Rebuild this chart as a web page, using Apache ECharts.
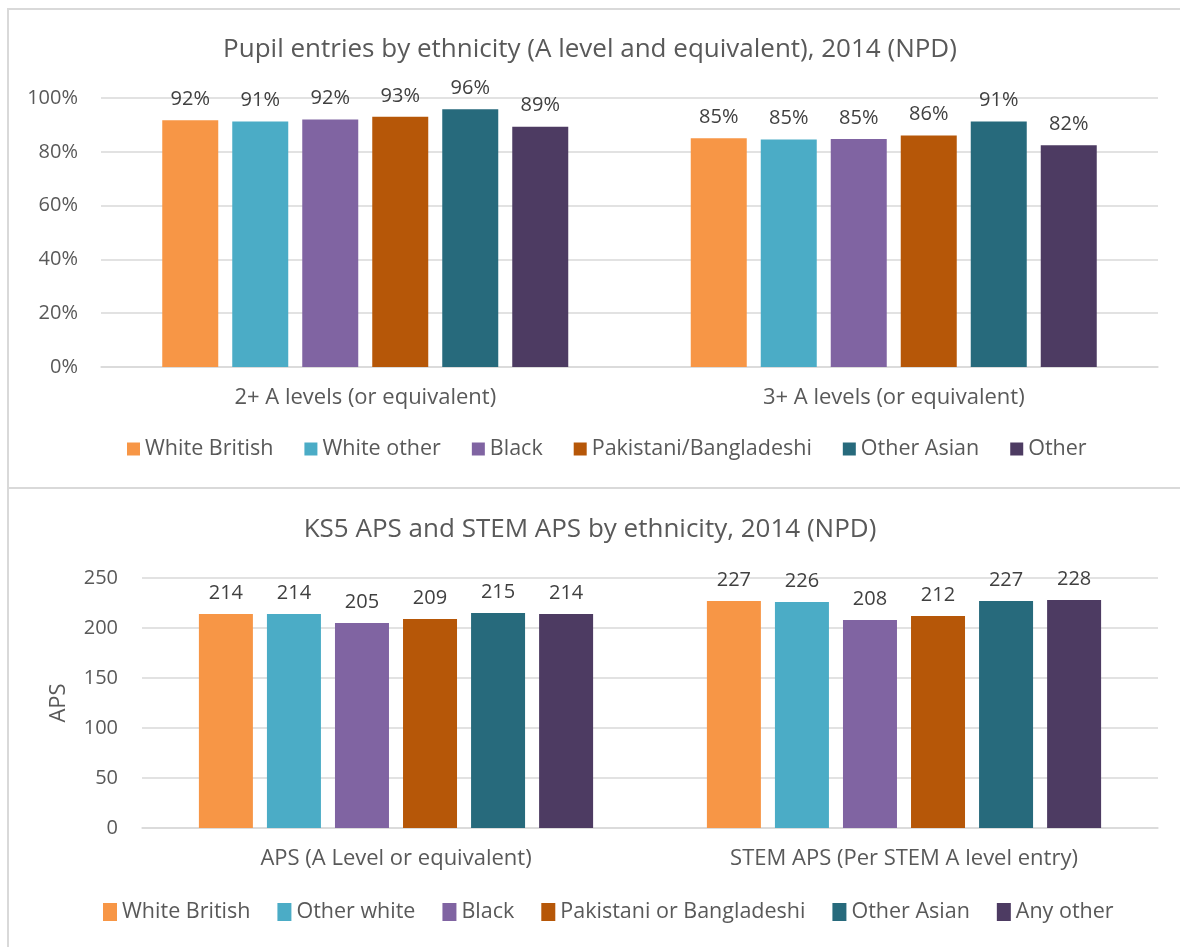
<!DOCTYPE html>
<html><head><meta charset="utf-8">
<script src="https://cdn.jsdelivr.net/npm/echarts@6/dist/echarts.min.js"></script>
<style>
html,body{margin:0;padding:0;background:#fff;width:1180px;height:947px;overflow:hidden;}
#frame1{position:absolute;left:7px;top:8px;width:1173px;height:478px;border-left:2px solid #d9d9d9;border-top:2px solid #d9d9d9;}
#frame2{position:absolute;left:7px;top:487px;width:1173px;height:460px;border-left:2px solid #d9d9d9;border-top:2px solid #d9d9d9;}
#c1{position:absolute;left:0;top:0;width:1180px;height:488px;}
#c2{position:absolute;left:0;top:488px;width:1180px;height:459px;}
</style></head>
<body>
<div id="frame1"></div><div id="frame2"></div>
<div id="c1"></div><div id="c2"></div>
<script>
// ---- Chart 1 data ----
const cats1 = ['2+ A levels (or equivalent)', '3+ A levels (or equivalent)'];
const names1 = ['White British', 'White other', 'Black', 'Pakistani/Bangladeshi', 'Other Asian', 'Other'];
const whiteBritish1 = [91.7, 85.0];
const whiteOther1 = [91.3, 84.6];
const black1 = [92.0, 84.8];
const pakBang1 = [93.0, 86.1];
const otherAsian1 = [95.8, 91.3];
const other1 = [89.3, 82.4];
const yTicks1 = [0, 20, 40, 60, 80, 100];

// ---- Chart 2 data ----
const cats2 = ['APS (A Level or equivalent)', 'STEM APS (Per STEM A level entry)'];
const names2 = ['White British', 'Other white', 'Black', 'Pakistani or Bangladeshi', 'Other Asian', 'Any other'];
const whiteBritish2 = [214, 227];
const otherWhite2 = [214, 226];
const black2 = [205, 208];
const pakBang2 = [209, 212];
const otherAsian2 = [215, 227];
const anyOther2 = [214, 228];
const yTicks2 = [0, 50, 100, 150, 200, 250];

const colors = ['#F79646', '#4BACC6', '#8064A2', '#B65708', '#276A7C', '#4D3B62'];
const FONT = 'Open Sans';
const TXT = '#595959';

function makeSeries(names, arrays, fmt) {
  return names.map((n, i) => ({
    name: n, type: 'bar', data: arrays[i],
    itemStyle: { color: colors[i] },
    barWidth: 56, barGap: '25%',
    label: { show: true, position: 'top', distance: 11, color: '#404040', fontSize: 20, fontFamily: FONT, formatter: fmt }
  }));
}

const c1 = echarts.init(document.getElementById('c1'));
c1.setOption({
  animation: false,
  color: colors,
  title: { text: 'Pupil entries by ethnicity (A level and equivalent), 2014 (NPD)', left: 'center', top: 32,
    textStyle: { color: TXT, fontSize: 26, fontWeight: 'normal', fontFamily: FONT } },
  legend: { data: names1, bottom: 23, left: 122, itemWidth: 13, itemHeight: 13, itemGap: 31,
    icon: 'rect', textStyle: { color: TXT, fontSize: 21.5, fontFamily: FONT } },
  grid: { left: 101, right: 22, top: 98, bottom: 121 },
  xAxis: { type: 'category', data: cats1,
    axisLine: { lineStyle: { color: '#d9d9d9', width: 1.5 } }, axisTick: { show: false },
    axisLabel: { color: TXT, fontSize: 22, fontFamily: FONT, margin: 20 } },
  yAxis: { type: 'value', min: yTicks1[0], max: yTicks1[yTicks1.length - 1], interval: 20,
    axisLine: { show: false }, axisTick: { show: false },
    splitLine: { lineStyle: { color: '#d9d9d9', width: 1.5 } },
    axisLabel: { color: TXT, fontSize: 20, fontFamily: FONT, margin: 23, formatter: v => v + '%' } },
  series: makeSeries(names1, [whiteBritish1, whiteOther1, black1, pakBang1, otherAsian1, other1],
    p => Math.round(p.value) + '%')
});

const c2 = echarts.init(document.getElementById('c2'));
const s2 = makeSeries(names2, [whiteBritish2, otherWhite2, black2, pakBang2, otherAsian2, anyOther2], p => p.value);
s2.forEach(s => { s.barWidth = 54; s.barGap = '26%'; });
c2.setOption({
  animation: false,
  color: colors,
  title: { text: 'KS5 APS and STEM APS by ethnicity, 2014 (NPD)', left: 'center', top: 24,
    textStyle: { color: TXT, fontSize: 26, fontWeight: 'normal', fontFamily: FONT } },
  legend: { data: names2, bottom: 19, left: 98, itemWidth: 14, itemHeight: 18, itemGap: 27,
    icon: 'rect', textStyle: { color: TXT, fontSize: 21.5, fontFamily: FONT } },
  grid: { left: 142, right: 22, top: 90, bottom: 119 },
  xAxis: { type: 'category', data: cats2,
    axisLine: { lineStyle: { color: '#d9d9d9', width: 1.5 } }, axisTick: { show: false },
    axisLabel: { color: TXT, fontSize: 22, fontFamily: FONT, margin: 20 } },
  yAxis: { type: 'value', min: yTicks2[0], max: yTicks2[yTicks2.length - 1], interval: 50,
    name: 'APS', nameLocation: 'middle', nameGap: 72, nameRotate: 90,
    nameTextStyle: { color: TXT, fontSize: 22, fontFamily: FONT },
    axisLine: { show: false }, axisTick: { show: false },
    splitLine: { lineStyle: { color: '#d9d9d9', width: 1.5 } },
    axisLabel: { color: TXT, fontSize: 20, fontFamily: FONT, margin: 24 } },
  series: s2
});
</script>
</body></html>
